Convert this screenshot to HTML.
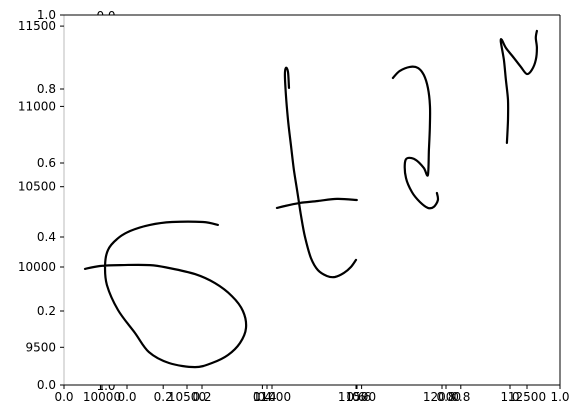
<!DOCTYPE html>
<html><head><meta charset="utf-8">
<style>
body{margin:0;background:#fff;}
svg{display:block;font-family:"DejaVu Sans","Liberation Sans",sans-serif;}
</style></head>
<body>
<svg id="chart" width="580" height="418" viewBox="0 0 580 418">
<rect x="0" y="0" width="580" height="418" fill="#fff"/>
<defs><clipPath id="topclip"><rect x="0" y="0" width="580" height="15"/></clipPath><clipPath id="botclip"><rect x="0" y="385" width="580" height="30"/></clipPath></defs>
<g id="axes"></g>
<g id="strokes"></g>
</svg>
<script>
// data axis ticks
const xTicks=[10000,10500,11000,11500,12000,12500];
const yTicks=[9500,10000,10500,11000,11500];
const unitTicks=["0.0","0.2","0.4","0.6","0.8","1.0"];
// strokes in data units
const s1x=[10682,10594,10412,10282,10165,10088,10035,10018,10029,10094,10194,10276,10394,10547,10647,10741,10812,10847,10829,10764,10664,10547,10394,10282,10106,9988,9900];
const s1y=[10262,10280,10280,10262,10224,10174,10106,10012,9888,9732,9589,9470,9402,9377,9402,9452,9527,9620,9726,9819,9900,9956,9994,10012,10012,10006,9988];
const s2x=[11100,11094,11082,11076,11082,11094,11111,11129,11152,11170,11194,11229,11270,11323,11370,11423,11464,11494];
const s2y=[11115,11215,11240,11196,11072,10916,10760,10604,10449,10324,10187,10056,9981,9944,9938,9963,10000,10044];
const s3x=[11029,11076,11164,11270,11382,11499];
const s3y=[10368,10380,10399,10411,10424,10417];
const s4x=[11711,11752,11811,11858,11893,11917,11929,11929,11923,11917,11893,11846,11799,11782,11788,11823,11870,11917,11952,11976,11970];
const s4y=[11177,11221,11246,11240,11196,11115,11009,10885,10729,10573,10617,10667,10679,10648,10554,10467,10405,10368,10374,10417,10461];
const s5x=[12382,12388,12388,12376,12364,12346,12352,12376,12423,12464,12499,12528,12552,12558,12552,12558];
const s5y=[10773,10916,11040,11165,11290,11402,11414,11364,11302,11246,11202,11227,11290,11364,11427,11470];

const X=v=>102+(v-10000)*85/500;
const Y=v=>267-(v-10000)*80.3/500;
const NS="http://www.w3.org/2000/svg";
const ax=document.getElementById('axes'), st=document.getElementById('strokes');
function mk(tag,attrs,parent){const e=document.createElementNS(NS,tag);for(const k in attrs)e.setAttribute(k,attrs[k]);parent.appendChild(e);return e;}
function txt(x,y,s,anchor,parent){const t=mk('text',{x:x,y:y,'font-size':12,'text-anchor':anchor,fill:'#000'},parent);t.textContent=s;return t;}

mk('line',{x1:64,y1:15,x2:64,y2:385,stroke:'#bbb','stroke-width':1},ax);
mk('line',{x1:64,y1:15,x2:560,y2:15,stroke:'#000','stroke-width':1},ax);
mk('line',{x1:560,y1:15,x2:560,y2:385,stroke:'#000','stroke-width':1},ax);
mk('line',{x1:64,y1:385,x2:560,y2:385,stroke:'#000','stroke-width':1},ax);

unitTicks.forEach((s,i)=>{
  const px=64+i*99.2, py=385-i*74;
  mk('line',{x1:px,y1:385,x2:px,y2:389,stroke:'#000'},ax);
  const t=txt(px,401,s,'middle',ax);
  
  
  mk('line',{x1:60,y1:py,x2:64,y2:py,stroke:'#000'},ax);
  const u=txt(56,py+4,s,'end',ax);
  
  
});
const secondPos=[127,202,267,356,446,510];
unitTicks.forEach((s,i)=>{
  mk('line',{x1:secondPos[i],y1:385,x2:secondPos[i],y2:389,stroke:'#000'},ax);
  const t=txt(secondPos[i],401,s,'middle',ax);
  
  
});
xTicks.forEach(v=>{
  mk('line',{x1:X(v),y1:385,x2:X(v),y2:389,stroke:'#000'},ax);
  const t=txt(X(v),401,String(v),'middle',ax);
  
  
});
yTicks.forEach(v=>{
  mk('line',{x1:60,y1:Y(v),x2:64,y2:Y(v),stroke:'#000'},ax);
  const t=txt(56,Y(v)+4,String(v),'end',ax);
  
  
});
const a=txt(106,20,"0.0",'middle',ax);
a.setAttribute('clip-path','url(#topclip)');


const b=txt(106,390,"1.0",'middle',ax);
b.setAttribute('clip-path','url(#botclip)');



function smooth(pts){
  let d='M'+pts[0][0].toFixed(1)+','+pts[0][1].toFixed(1);
  for(let i=0;i<pts.length-1;i++){
    const p0=pts[Math.max(0,i-1)],p1=pts[i],p2=pts[i+1],p3=pts[Math.min(pts.length-1,i+2)];
    const c1=[p1[0]+(p2[0]-p0[0])/6,p1[1]+(p2[1]-p0[1])/6];
    const c2=[p2[0]-(p3[0]-p1[0])/6,p2[1]-(p3[1]-p1[1])/6];
    d+=' C'+c1.map(n=>n.toFixed(1)).join(',')+' '+c2.map(n=>n.toFixed(1)).join(',')+' '+p2.map(n=>n.toFixed(1)).join(',');
  }
  return d;
}
[[s1x,s1y],[s2x,s2y],[s3x,s3y],[s4x,s4y],[s5x,s5y]].forEach((s,i)=>{
  const pts=s[0].map((v,j)=>[X(v),Y(s[1][j])]);
  const p=mk('path',{d:smooth(pts),fill:'none',stroke:'#000','stroke-width':2.2,'stroke-linejoin':'round','stroke-linecap':'round'},st);
  
  
});
</script>
</body></html>
